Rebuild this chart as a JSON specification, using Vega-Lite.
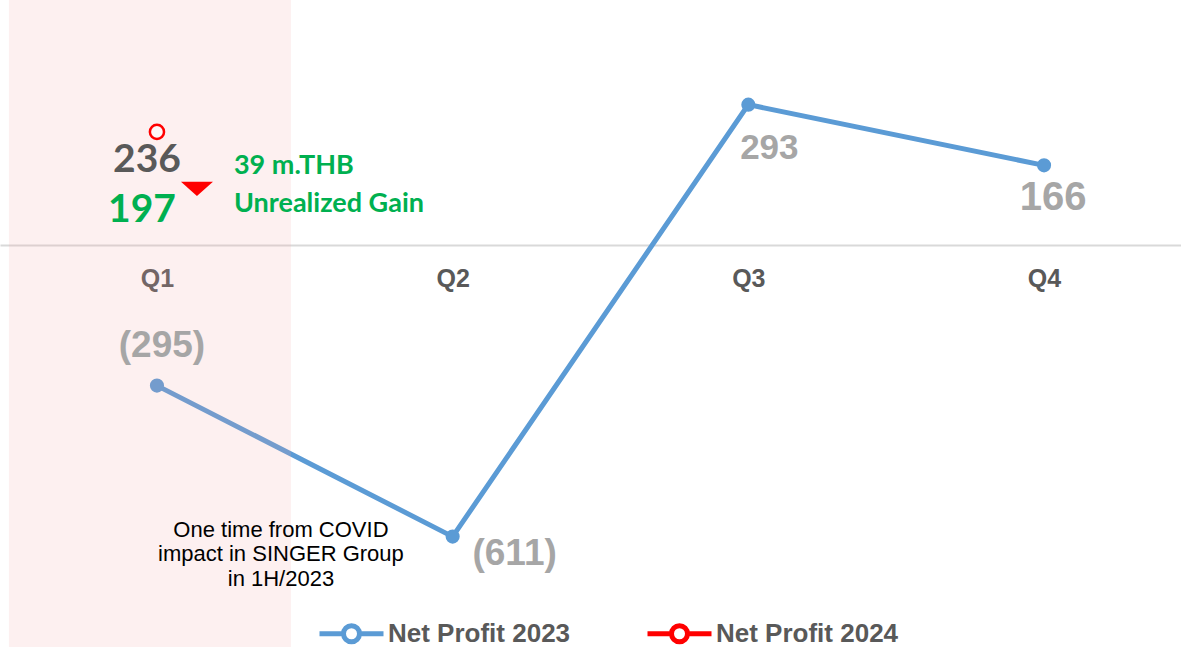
{
  "$schema": "https://vega.github.io/schema/vega-lite/v6.json",
  "width": 1181,
  "height": 647,
  "autosize": {"type": "none"},
  "padding": 0,
  "background": "white",
  "config": {"view": {"stroke": null}, "font": "Liberation Sans"},
  "datasets": {
    "np": [
      {"q": "Q1", "value": -295, "label": "(295)", "series": "Net Profit 2023"},
      {"q": "Q2", "value": -611, "label": "(611)", "series": "Net Profit 2023"},
      {"q": "Q3", "value": 293, "label": "293", "series": "Net Profit 2023"},
      {"q": "Q4", "value": 166, "label": "166", "series": "Net Profit 2023"},
      {"q": "Q1", "value": 236, "label": "236", "series": "Net Profit 2024"}
    ],
    "notes": [
      {"q": "Q1", "value": 236, "adjusted": "197", "gain": "39 m.THB", "gainText": "Unrealized Gain"}
    ],
    "covid": [
      {"q": "Q1", "value": -295, "note": ["One time from COVID", "impact in SINGER Group", "in 1H/2023"]}
    ]
  },
  "layer": [
    {
      "data": {"name": "np"},
      "mark": {"type": "line", "strokeWidth": 5},
      "encoding": {
        "x": {"field": "q", "type": "ordinal", "scale": {"type": "point", "padding": 0.497, "align": 0.534, "domain": ["Q1", "Q2", "Q3", "Q4"]},
          "axis": {"orient": "bottom", "offset": -403, "domain": false, "ticks": false, "grid": false, "title": null, "labelAngle": 0, "labelPadding": 22, "labelFontSize": 25, "labelFontWeight": "bold", "labelColor": "#595959", "labelFont": "Liberation Sans"}},
        "y": {"field": "value", "type": "quantitative", "scale": {"domain": [-842, 512], "nice": false, "zero": false},
          "axis": {"values": [0], "grid": true, "gridColor": "#D9D9D9", "gridWidth": 2, "labels": false, "ticks": false, "domain": false, "title": null}},
        "color": {"field": "series", "type": "nominal",
          "scale": {"domain": ["Net Profit 2023", "Net Profit 2024"], "range": ["#5B9BD5", "#FF0000"]},
          "legend": {"orient": "none", "legendX": 317, "legendY": 599, "direction": "horizontal", "title": null,
            "symbolType": "M-1,0L-0.25,0M0.25,0L1,0M-0.25,0A0.25,0.25 0 1,0 0.25,0A0.25,0.25 0 1,0 -0.25,0Z",
            "symbolSize": 4096, "symbolStrokeWidth": 5, "labelFontSize": 26, "labelFont": "Liberation Sans", "labelFontWeight": "bold", "labelColor": "#595959", "labelOffset": 2, "columnPadding": 66, "labelLimit": 400}
        }
      }
    },
    {
      "data": {"name": "np"},
      "transform": [{"filter": "datum.series === 'Net Profit 2023'"}],
      "mark": {"type": "point", "filled": true, "size": 200, "opacity": 1, "color": "#5B9BD5"},
      "encoding": {
        "x": {"field": "q", "type": "ordinal"},
        "y": {"field": "value", "type": "quantitative"}
      }
    },
    {
      "data": {"name": "notes"},
      "mark": {"type": "bar", "width": 282, "xOffset": -7, "color": "#F4A6A6", "opacity": 0.17},
      "encoding": {
        "x": {"field": "q", "type": "ordinal"}
      }
    },
    {
      "data": {"name": "np"},
      "transform": [{"filter": "datum.series === 'Net Profit 2024'"}],
      "mark": {"type": "point", "filled": false, "fill": "#FFFFFF", "fillOpacity": 0.6, "size": 200, "strokeWidth": 2.5, "opacity": 1, "color": "#FF0000"},
      "encoding": {
        "x": {"field": "q", "type": "ordinal"},
        "y": {"field": "value", "type": "quantitative"}
      }
    },
    {
      "data": {"name": "np"},
      "transform": [{"filter": "datum.q === 'Q1' && datum.series === 'Net Profit 2023'"}],
      "mark": {"type": "text", "dx": 5, "dy": -40, "fontSize": 37, "fontWeight": "bold", "color": "#A6A6A6", "baseline": "middle"},
      "encoding": {"x": {"field": "q", "type": "ordinal"}, "y": {"field": "value", "type": "quantitative"}, "text": {"field": "label"}}
    },
    {
      "data": {"name": "np"},
      "transform": [{"filter": "datum.q === 'Q2'"}],
      "mark": {"type": "text", "dx": 62, "dy": 17, "fontSize": 37, "fontWeight": "bold", "color": "#A6A6A6", "baseline": "middle"},
      "encoding": {"x": {"field": "q", "type": "ordinal"}, "y": {"field": "value", "type": "quantitative"}, "text": {"field": "label"}}
    },
    {
      "data": {"name": "np"},
      "transform": [{"filter": "datum.q === 'Q3'"}],
      "mark": {"type": "text", "dx": 21, "dy": 43, "fontSize": 35, "fontWeight": "bold", "color": "#A6A6A6", "baseline": "middle"},
      "encoding": {"x": {"field": "q", "type": "ordinal"}, "y": {"field": "value", "type": "quantitative"}, "text": {"field": "label"}}
    },
    {
      "data": {"name": "np"},
      "transform": [{"filter": "datum.q === 'Q4'"}],
      "mark": {"type": "text", "dx": 9, "dy": 33, "fontSize": 40, "fontWeight": "bold", "color": "#A6A6A6", "baseline": "middle"},
      "encoding": {"x": {"field": "q", "type": "ordinal"}, "y": {"field": "value", "type": "quantitative"}, "text": {"field": "label"}}
    },
    {
      "data": {"name": "np"},
      "transform": [{"filter": "datum.series === 'Net Profit 2024'"}],
      "mark": {"type": "text", "dx": -10, "dy": 28, "fontSize": 39, "fontWeight": "bold", "font": "Lato", "color": "#595959", "baseline": "middle"},
      "encoding": {"x": {"field": "q", "type": "ordinal"}, "y": {"field": "value", "type": "quantitative"}, "text": {"field": "label"}}
    },
    {
      "data": {"name": "notes"},
      "mark": {"type": "text", "dx": -15, "dy": 78, "fontSize": 39, "fontWeight": "bold", "font": "Lato", "color": "#00B050", "baseline": "middle"},
      "encoding": {"x": {"field": "q", "type": "ordinal"}, "y": {"field": "value", "type": "quantitative"}, "text": {"field": "adjusted"}}
    },
    {
      "data": {"name": "notes"},
      "mark": {"type": "point", "shape": "M-1,-0.45L1,-0.45L0,0.45Z", "size": 1024, "filled": true, "color": "#FF0000", "opacity": 1, "xOffset": 40, "yOffset": 57},
      "encoding": {"x": {"field": "q", "type": "ordinal"}, "y": {"field": "value", "type": "quantitative"}}
    },
    {
      "data": {"name": "notes"},
      "mark": {"type": "text", "dx": 77, "dy": 34, "align": "left", "fontSize": 27, "fontWeight": "bold", "font": "Lato", "color": "#00B050", "baseline": "middle"},
      "encoding": {"x": {"field": "q", "type": "ordinal"}, "y": {"field": "value", "type": "quantitative"}, "text": {"field": "gain"}}
    },
    {
      "data": {"name": "notes"},
      "mark": {"type": "text", "dx": 77, "dy": 72, "align": "left", "fontSize": 27, "fontWeight": "bold", "font": "Lato", "color": "#00B050", "baseline": "middle"},
      "encoding": {"x": {"field": "q", "type": "ordinal"}, "y": {"field": "value", "type": "quantitative"}, "text": {"field": "gainText"}}
    },
    {
      "data": {"name": "covid"},
      "mark": {"type": "text", "dx": 124, "dy": 144, "align": "center", "fontSize": 22, "lineHeight": 24.5, "color": "#000000", "baseline": "middle"},
      "encoding": {"x": {"field": "q", "type": "ordinal"}, "y": {"field": "value", "type": "quantitative"}, "text": {"field": "note"}}
    }
  ]
}
